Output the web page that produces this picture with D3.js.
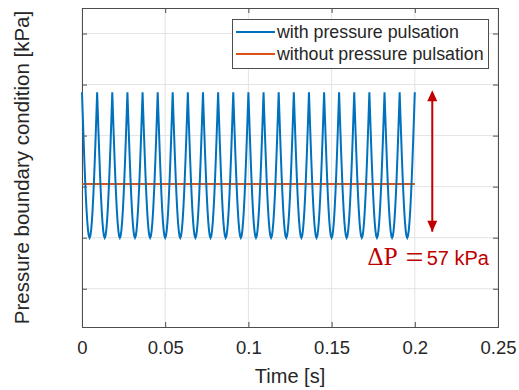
<!DOCTYPE html>
<html>
<head>
<meta charset="utf-8">
<script src="https://cdn.jsdelivr.net/npm/d3@7"></script>
<style>
  body { margin: 0; background: #ffffff; }
  text { font-family: "Liberation Sans", Arial, sans-serif; fill: #262626; }
</style>
</head>
<body>
<div id="container"></div>
<script>
// Chart size
var width = 519;
var height = 390;

// Axis ticks
var xTicks = [0, 0.05, 0.1, 0.15, 0.2, 0.25];
var xTickLabels = ["0", "0.05", "0.1", "0.15", "0.2", "0.25"];
var yTicks = [100, 120, 140, 160, 180, 200];

// Times of the pulsation peaks [s]
var peakTimes = [0, 0.0091, 0.0182, 0.0273, 0.0364, 0.0455, 0.0545, 0.0636, 0.0727,
  0.0818, 0.0909, 0.1, 0.1091, 0.1182, 0.1273, 0.1364, 0.1455, 0.1545, 0.1636,
  0.1727, 0.1818, 0.1909, 0.2];

// One cycle of the pulsation: position inside the period and pressure [kPa]
var cyclePhase = [0, 0.05, 0.1, 0.15, 0.2, 0.25, 0.3, 0.35, 0.4, 0.45, 0.5,
  0.55, 0.6, 0.65, 0.7, 0.75, 0.8, 0.85, 0.9, 0.95];
var cyclePressure = [177, 168.1, 159.4, 151.1, 143.5, 136.7, 130.9, 126.2, 122.8, 120.7, 120,
  120.7, 122.8, 126.2, 130.9, 136.7, 143.5, 151.1, 159.4, 168.1];

// Constant pressure case
var constTimes = [0, 0.2];
var constPressure = [141, 141];

// Pressure difference annotation
var deltaP = 57;
var arrowTime = 0.2105;

// Series names and colours
var seriesNames = ["with pressure pulsation", "without pressure pulsation"];
var seriesColors = ["#0072BD", "#D95319"];

// build the pulsation series from the peaks and the cycle shape
var pulsation = [];
for (var i = 0; i < peakTimes.length - 1; i++) {
  var t0 = peakTimes[i];
  var t1 = peakTimes[i + 1];
  for (var j = 0; j < cyclePhase.length; j++) {
    pulsation.push({ t: t0 + cyclePhase[j] * (t1 - t0), p: cyclePressure[j] });
  }
}
pulsation.push({ t: peakTimes[peakTimes.length - 1], p: cyclePressure[0] });

var constant = constTimes.map(function (t, i) { return { t: t, p: constPressure[i] }; });

var margin = { top: 8, right: 21, bottom: 63, left: 82 };

var svg = d3.select("#container")
  .append("svg")
  .attr("width", width)
  .attr("height", height);

var x = d3.scaleLinear()
  .domain([0, 0.25])
  .range([margin.left, width - margin.right]);

var y = d3.scaleLinear()
  .domain([85, 210])
  .range([height - margin.bottom, margin.top]);

var x0 = margin.left, x1 = width - margin.right;
var y0 = height - margin.bottom, y1 = margin.top;

// Grid lines
svg.append("g").selectAll("line.gx")
  .data(xTicks)
  .enter()
  .append("line")
  .attr("x1", function (d) { return x(d); })
  .attr("x2", function (d) { return x(d); })
  .attr("y1", y0)
  .attr("y2", y1)
  .attr("stroke", "#e3e3e3")
  .attr("stroke-width", 1);

svg.append("g").selectAll("line.gy")
  .data(yTicks)
  .enter()
  .append("line")
  .attr("x1", x0)
  .attr("x2", x1)
  .attr("y1", function (d) { return y(d); })
  .attr("y2", function (d) { return y(d); })
  .attr("stroke", "#e3e3e3")
  .attr("stroke-width", 1);

// Axes (inward ticks, box on)
var xAxis = d3.axisBottom(x).tickValues(xTicks).tickSize(-5).tickFormat(function (d, i) { return xTickLabels[i]; });
var gx = svg.append("g")
  .attr("transform", "translate(0," + y0 + ")")
  .call(xAxis);
gx.selectAll("text")
  .attr("font-size", 18.5)
  .attr("dy", null)
  .attr("y", 27)
  .style("font-family", "Liberation Sans, Arial, sans-serif")
  .attr("fill", "#262626");

svg.append("g")
  .attr("transform", "translate(0," + y1 + ")")
  .call(d3.axisTop(x).tickValues(xTicks).tickSize(-5).tickFormat(""));

svg.append("g")
  .attr("transform", "translate(" + x0 + ",0)")
  .call(d3.axisLeft(y).tickValues(yTicks).tickSize(-5).tickFormat(""));

svg.append("g")
  .attr("transform", "translate(" + x1 + ",0)")
  .call(d3.axisRight(y).tickValues(yTicks).tickSize(-5).tickFormat(""));

svg.selectAll(".domain").attr("stroke", "#4d4d4d").attr("stroke-width", 1);
svg.selectAll(".tick line").attr("stroke", "#4d4d4d");

// Lines
var line = d3.line()
  .x(function (d) { return x(d.t); })
  .y(function (d) { return y(d.p); });

svg.append("path")
  .datum(constant)
  .attr("d", line)
  .attr("fill", "none")
  .attr("stroke", seriesColors[1])
  .attr("stroke-width", 2);

svg.append("path")
  .datum(pulsation)
  .attr("d", line)
  .attr("fill", "none")
  .attr("stroke", seriesColors[0])
  .attr("stroke-width", 2);

// Arrow for delta P
var red = "#c00000";
var ax = x(arrowTime);
var pTop = d3.max(cyclePressure);
var pBot = pTop - deltaP;
svg.append("line")
  .attr("x1", ax).attr("x2", ax)
  .attr("y1", y(pTop) + 6)
  .attr("y2", y(pBot) - 6)
  .attr("stroke", red)
  .attr("stroke-width", 2);
svg.append("path")
  .attr("d", "M" + ax + "," + (y(pTop) - 2) + "l-5,11h10z")
  .attr("fill", red);
svg.append("path")
  .attr("d", "M" + ax + "," + (y(pBot) - 6) + "l-5,-11h10z")
  .attr("fill", red);

var dpText = svg.append("text")
  .attr("x", ax - 4)
  .attr("y", y(pBot) + 27)
  .attr("text-anchor", "middle");
dpText.append("tspan")
  .style("font-family", "Liberation Serif, Times New Roman, serif")
  .style("fill", red)
  .attr("font-size", 25)
  .text("ΔP");
dpText.append("tspan")
  .style("font-family", "Liberation Serif, Times New Roman, serif")
  .style("fill", red)
  .attr("font-size", 32)
  .attr("dx", 8)
  .attr("dy", 3)
  .text("=");
dpText.append("tspan")
  .style("fill", red)
  .attr("font-size", 20)
  .attr("dx", 3)
  .attr("dy", -3)
  .text(deltaP + " kPa");

// Legend
var legend = svg.append("g");
legend.append("rect")
  .attr("x", 232.5)
  .attr("y", 19.5)
  .attr("width", 256)
  .attr("height", 49)
  .attr("fill", "#ffffff")
  .attr("stroke", "#4d4d4d")
  .attr("stroke-width", 1);

seriesNames.forEach(function (name, i) {
  var ly = 32 + i * 22;
  legend.append("line")
    .attr("x1", 236).attr("x2", 275)
    .attr("y1", ly).attr("y2", ly)
    .attr("stroke", seriesColors[i])
    .attr("stroke-width", 2);
  legend.append("text")
    .attr("x", 277)
    .attr("y", ly + 6)
    .attr("font-size", 17.8)
    .text(name);
});

// Axis labels
svg.append("text")
  .attr("x", (x0 + x1) / 2)
  .attr("y", 383)
  .attr("text-anchor", "middle")
  .attr("font-size", 20)
  .text("Time [s]");

svg.append("text")
  .attr("transform", "translate(29," + ((y0 + y1) / 2) + ") rotate(-90)")
  .attr("text-anchor", "middle")
  .attr("font-size", 20.5)
  .text("Pressure boundary condition [kPa]");
</script>
</body>
</html>
